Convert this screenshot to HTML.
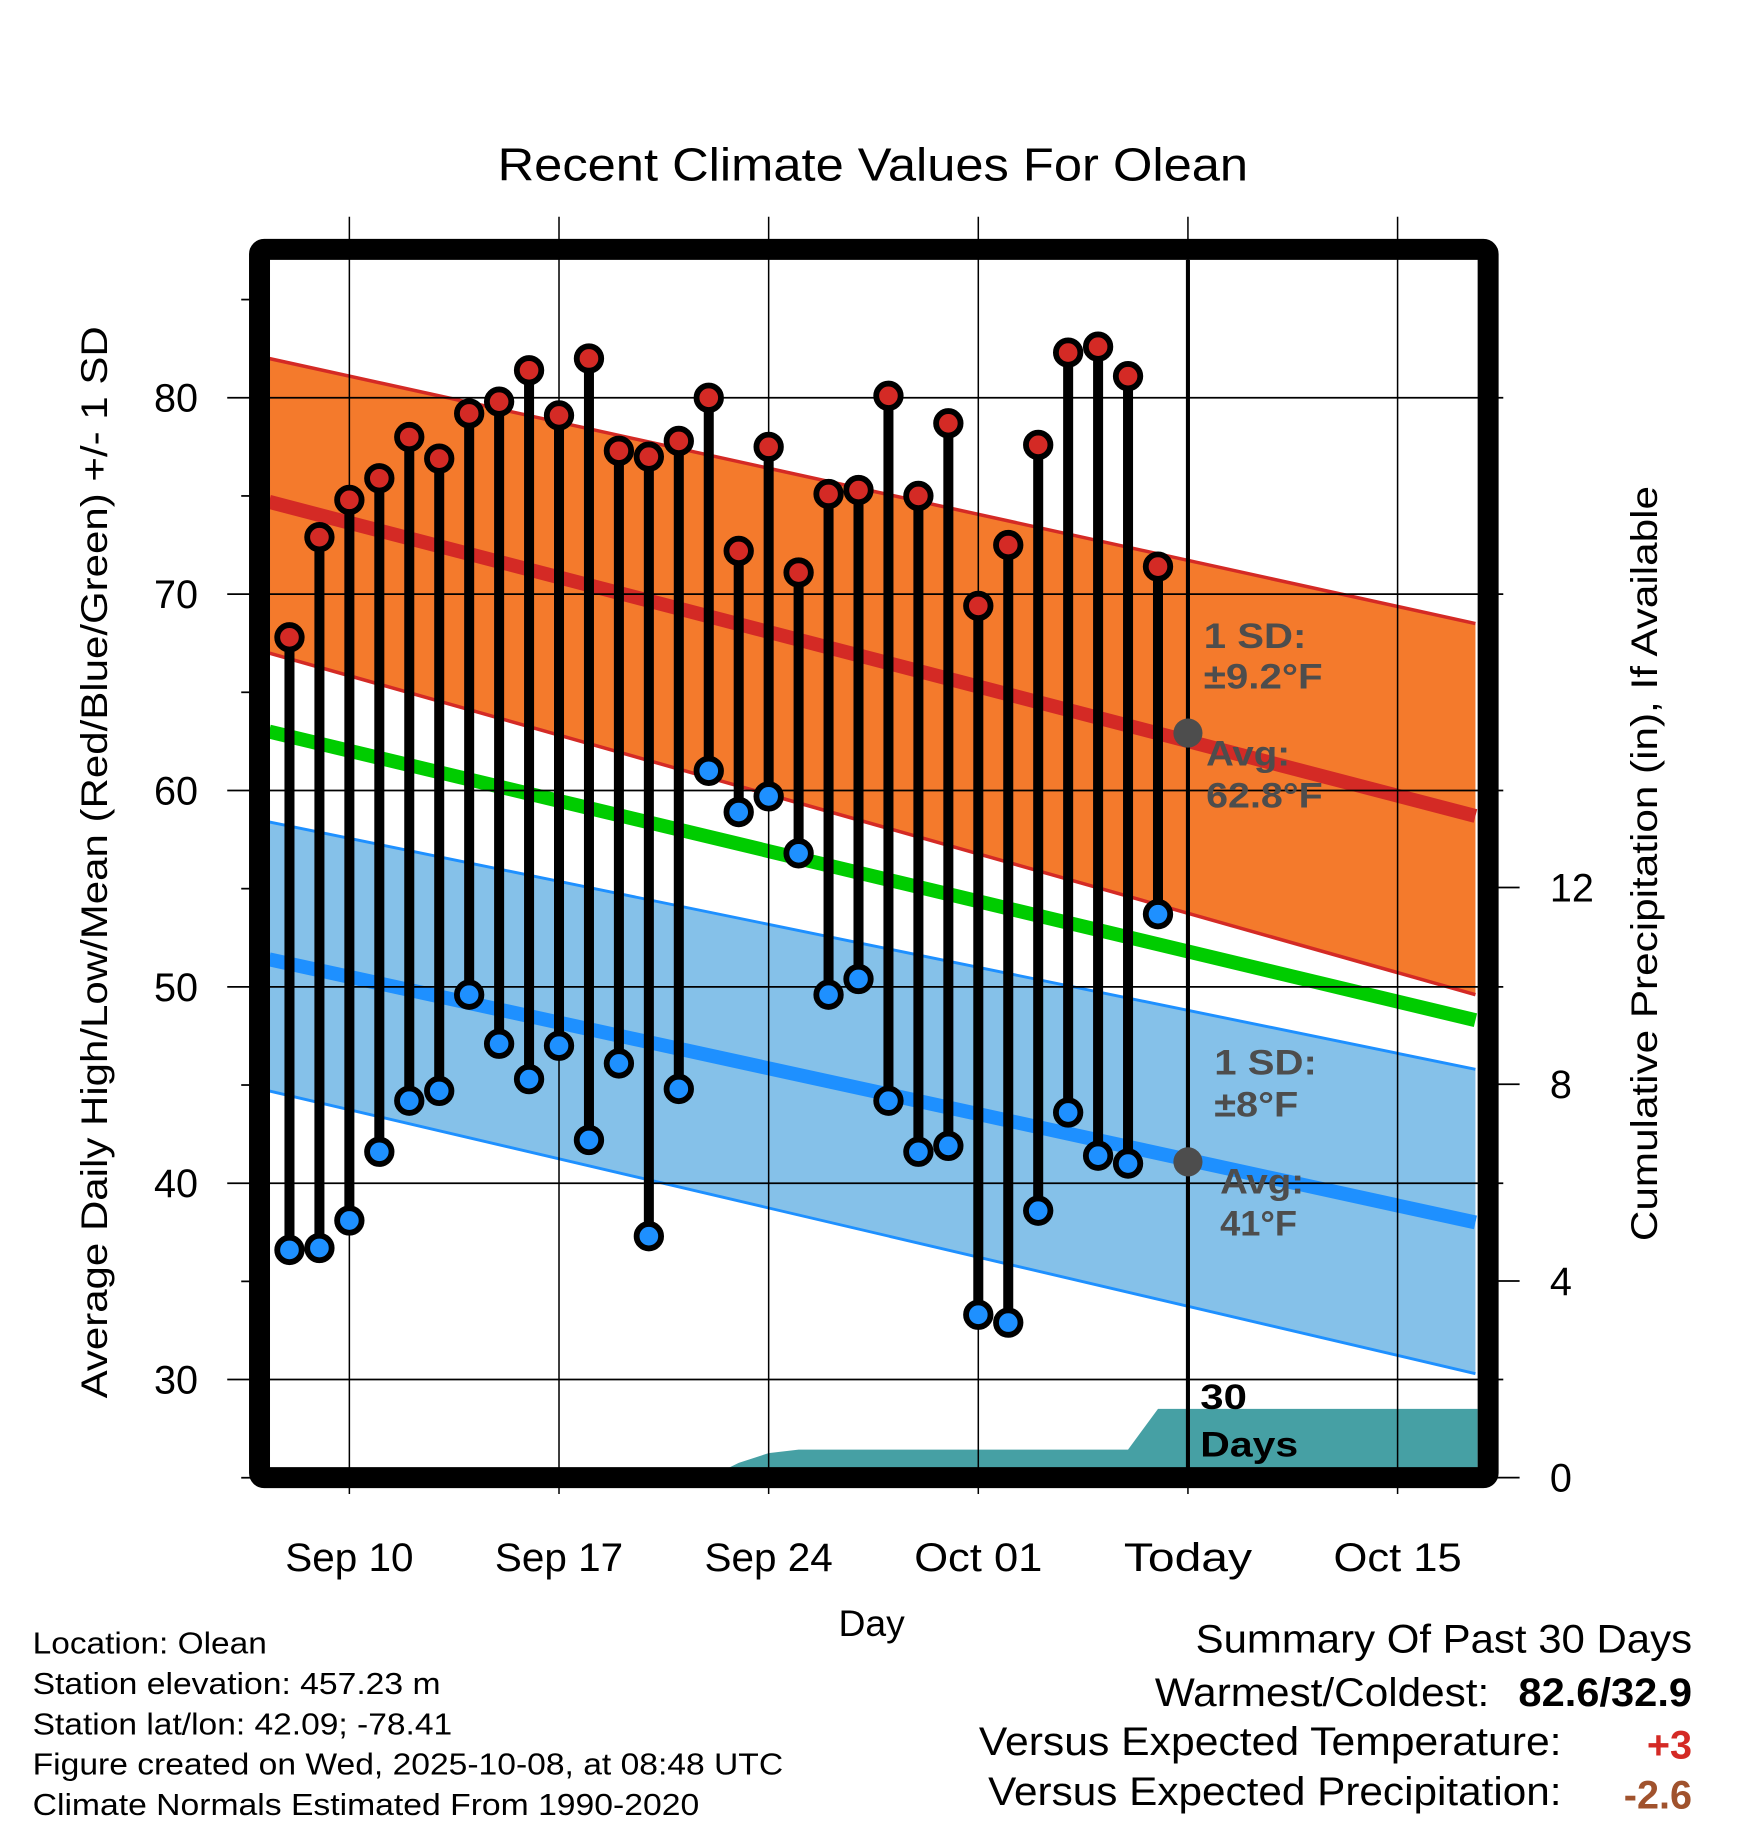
<!DOCTYPE html>
<html><head><meta charset="utf-8"><style>
html,body{margin:0;padding:0;background:#fff}
svg{display:block}
text{font-family:"Liberation Sans",sans-serif}
</style></head><body>
<svg id="chart" width="1748" height="1828" viewBox="0 0 1500 1568.6" xmlns="http://www.w3.org/2000/svg">
<g id="bands"></g><g id="grid"></g><g id="marks"></g><g id="annot"></g><g id="texts"></g>
</svg>
<script>
// ---- data ----
const dates = ["Sep 8","Sep 9","Sep 10","Sep 11","Sep 12","Sep 13","Sep 14","Sep 15","Sep 16","Sep 17","Sep 18","Sep 19","Sep 20","Sep 21","Sep 22","Sep 23","Sep 24","Sep 25","Sep 26","Sep 27","Sep 28","Sep 29","Sep 30","Oct 1","Oct 2","Oct 3","Oct 4","Oct 5","Oct 6","Oct 7"];
const highs = [67.8,72.9,74.8,75.9,78.0,76.9,79.2,79.8,81.4,79.1,82.0,77.3,77.0,77.8,80.0,72.2,77.5,71.1,75.1,75.3,80.1,75.0,78.7,69.4,72.5,77.6,82.3,82.6,81.1,71.4];
const lows = [36.6,36.7,38.1,41.6,44.2,44.7,49.6,47.1,45.3,47.0,42.2,46.1,37.3,44.8,61.0,58.9,59.7,56.8,49.6,50.4,44.2,41.6,41.9,33.3,32.9,38.6,43.6,41.4,41.0,53.7];
const precip = [0,0,0,0,0,0,0,0,0,0,0,0,0,0,0,0.3,0.5,0.57,0.57,0.57,0.57,0.57,0.57,0.57,0.57,0.57,0.57,0.57,0.57,1.4];
const normDays = [-0.68, 39.6];
const normHigh = [74.7, 58.7];
const normHighUp = [82.0, 68.5];
const normHighLo = [67.0, 49.6];
const normMean = [63.0, 48.3];
const normLow = [51.4, 38.0];
const normLowUp = [58.4, 45.8];
const normLowLo = [44.7, 30.3];
const yTicks = [30,40,50,60,70,80];
const yMinor = [25,35,45,55,65,75,85];
const pTicks = [0,4,8,12];
const xTickDays = [2,9,16,23,30,37];
const xTickLabels = ["Sep 10","Sep 17","Sep 24","Oct 01","Today","Oct 15"];
const todayDay = 30;

// ---- scales ----
const X0=231.7,X1=1268,Y0=223,Y1=1260;
const x = d => 299.8 + (d-2)*25.7;
const y = v => 341.3 - (v-80)*16.85;
const yp = p => 1268 - p*42.2;
const NS="http://www.w3.org/2000/svg";
function mk(parent,tag,attrs,txt){const e=document.createElementNS(NS,tag);for(const k in attrs)e.setAttribute(k,attrs[k]);if(txt!==undefined)e.textContent=txt;document.getElementById(parent).appendChild(e);return e;}
function lerp(arr,d){const t=(d-normDays[0])/(normDays[1]-normDays[0]);return arr[0]+(arr[1]-arr[0])*t;}
function bandPath(up,lo){const N=20;let p="";for(let i=0;i<=N;i++){const d=normDays[0]+(normDays[1]-normDays[0])*i/N;p+=(i?"L":"M")+x(d)+","+y(lerp(up,d));}for(let i=N;i>=0;i--){const d=normDays[0]+(normDays[1]-normDays[0])*i/N;p+="L"+x(d)+","+y(lerp(lo,d));}return p+"Z";}
function linePath(arr){return "M"+x(normDays[0])+","+y(arr[0])+"L"+x(normDays[1])+","+y(arr[1]);}

let e;
e=mk("bands","path",{d:bandPath(normHighUp,normHighLo),fill:"#f47a2c"});


e=mk("bands","path",{d:linePath(normHighUp),stroke:"#d42a25","stroke-width":3,fill:"none"});


e=mk("bands","path",{d:linePath(normHighLo),stroke:"#d42a25","stroke-width":3,fill:"none"});


e=mk("bands","path",{d:bandPath(normLowUp,normLowLo),fill:"#85c1e9"});


e=mk("bands","path",{d:linePath(normLowUp),stroke:"#1e90ff","stroke-width":2.5,fill:"none"});


e=mk("bands","path",{d:linePath(normLowLo),stroke:"#1e90ff","stroke-width":2.5,fill:"none"});


e=mk("bands","path",{d:linePath(normHigh),stroke:"#d42a25","stroke-width":12,fill:"none"});


e=mk("bands","path",{d:linePath(normMean),stroke:"#00cc00","stroke-width":12,fill:"none"});


e=mk("bands","path",{d:linePath(normLow),stroke:"#1e90ff","stroke-width":12,fill:"none"});


let pp="M"+x(0)+","+yp(0);
precip.forEach((v,i)=>{pp+="L"+x(i)+","+yp(v);});
pp+="L"+X1+","+yp(precip[precip.length-1])+"L"+X1+","+yp(0)+"Z";
e=mk("bands","path",{d:pp,fill:"#46a0a4"});



yTicks.forEach(v=>{
  e=mk("grid","line",{x1:195,x2:1290,y1:y(v),y2:y(v),stroke:"#000","stroke-width":1.5});
  
  
  e=mk("texts","text",{x:170,y:y(v)+12,"font-size":34,"text-anchor":"end"},String(v));
  
  
});
yMinor.forEach(v=>{
  e=mk("grid","line",{x1:207,x2:220,y1:y(v),y2:y(v),stroke:"#000","stroke-width":1.5});
  
  
});
pTicks.forEach(p=>{
  e=mk("grid","line",{x1:1280,x2:1304,y1:yp(p),y2:yp(p),stroke:"#000","stroke-width":1.5});
  
  
  e=mk("texts","text",{x:1330,y:yp(p)+12,"font-size":34},String(p));
  
  
});
xTickDays.forEach((d,i)=>{
  e=mk("grid","line",{x1:x(d),x2:x(d),y1:186,y2:1282,stroke:"#000","stroke-width":1.3});
  
  
  e=mk("texts","text",{x:x(d),y:1348,"font-size":34,"text-anchor":"middle",textLength:110,lengthAdjust:"spacingAndGlyphs"},xTickLabels[i]);
  
  
});
e=mk("grid","line",{x1:x(todayDay),x2:x(todayDay),y1:Y0,y2:Y1,stroke:"#000","stroke-width":3.5});



highs.forEach((h,i)=>{
  e=mk("marks","line",{x1:x(i),x2:x(i),y1:y(h),y2:y(lows[i]),stroke:"#000","stroke-width":8.6});
  
  
});
highs.forEach((h,i)=>{
  e=mk("marks","circle",{cx:x(i),cy:y(h),r:10.5,fill:"#d42a25",stroke:"#000","stroke-width":5});
  
  
  e=mk("marks","circle",{cx:x(i),cy:y(lows[i]),r:10.5,fill:"#1e90ff",stroke:"#000","stroke-width":5});
  
  
});

e=mk("marks","rect",{x:222.7,y:214,width:1054.3,height:1054,fill:"none",stroke:"#000","stroke-width":18,rx:4});



e=mk("annot","circle",{cx:x(todayDay),cy:629,r:12.5,fill:"#4d4d4d"});


e=mk("annot","circle",{cx:x(todayDay),cy:997,r:12.5,fill:"#4d4d4d"});


function at(xx,yy,s,name,fs,col,w){e=mk("annot","text",{x:xx,y:yy,"font-size":fs||30,"font-weight":"bold",fill:col||"#4d4d4d"},s);
if(w){e.setAttribute("textLength",w);e.setAttribute("lengthAdjust","spacingAndGlyphs");}

}
at(1033,556,"1 SD:","high-sd-label",30,null,88);
at(1033,591,"±9.2°F","high-sd-value",30,null,102);
at(1035,657,"Avg:","avg-high-label",30,null,72);
at(1035,693,"62.8°F","avg-high-value",30,null,100);
at(1042,922,"1 SD:","low-sd-label",30,null,88);
at(1042,958,"±8°F","low-sd-value",30,null,72);
at(1047,1024,"Avg:","avg-low-label",30,null,72);
at(1047,1060,"41°F","avg-low-value",30,null,66);
at(1030,1209,"30","precip-days-num",30,"#000",40);
at(1030,1250,"Days","precip-days-label",30,"#000",84);

function tx(xx,yy,s,name,fs,opt){const a=Object.assign({x:xx,y:yy,"font-size":fs},opt||{});e=mk("texts","text",a,s);

}
tx(749,155,"Recent Climate Values For Olean","chart-title",40,{"text-anchor":"middle",textLength:644,lengthAdjust:"spacingAndGlyphs"});
tx(748,1404,"Day","x-axis-title",32,{"text-anchor":"middle"});
tx(0,0,"Average Daily High/Low/Mean (Red/Blue/Green) +/- 1 SD","y-axis-title",32,{"text-anchor":"middle",transform:"translate(92,740) rotate(-90)",textLength:920,lengthAdjust:"spacingAndGlyphs"});
tx(0,0,"Cumulative Precipitation (in), If Available","precip-axis-title",32,{"text-anchor":"middle",transform:"translate(1422,741) rotate(-90)",textLength:648,lengthAdjust:"spacingAndGlyphs"});
const info=[["Location: Olean",201],["Station elevation: 457.23 m",350],["Station lat/lon: 42.09; -78.41",360],["Figure created on Wed, 2025-10-08, at 08:48 UTC",644],["Climate Normals Estimated From 1990-2020",572]];
info.forEach((r,i)=>tx(28,1419+i*34.6,r[0],"station-info-line",26,{textLength:r[1],lengthAdjust:"spacingAndGlyphs"}));
tx(1452,1418,"Summary Of Past 30 Days","summary-title",34,{"text-anchor":"end",textLength:426,lengthAdjust:"spacingAndGlyphs"});
tx(1278,1464,"Warmest/Coldest:","warmest-coldest-label",34,{"text-anchor":"end",textLength:287,lengthAdjust:"spacingAndGlyphs"});
tx(1452,1464,"82.6/32.9","warmest-coldest-value",34,{"text-anchor":"end","font-weight":"bold",textLength:149,lengthAdjust:"spacingAndGlyphs"});
tx(1340,1506,"Versus Expected Temperature:","temp-anomaly-label",34,{"text-anchor":"end",textLength:500,lengthAdjust:"spacingAndGlyphs"});
tx(1452,1509,"+3","temp-anomaly-value",34,{"text-anchor":"end","font-weight":"bold",fill:"#d42a25"});
tx(1340,1549,"Versus Expected Precipitation:","precip-anomaly-label",34,{"text-anchor":"end",textLength:492,lengthAdjust:"spacingAndGlyphs"});
tx(1452,1552,"-2.6","precip-anomaly-value",34,{"text-anchor":"end","font-weight":"bold",fill:"#a0522d"});
</script>
</body></html>
